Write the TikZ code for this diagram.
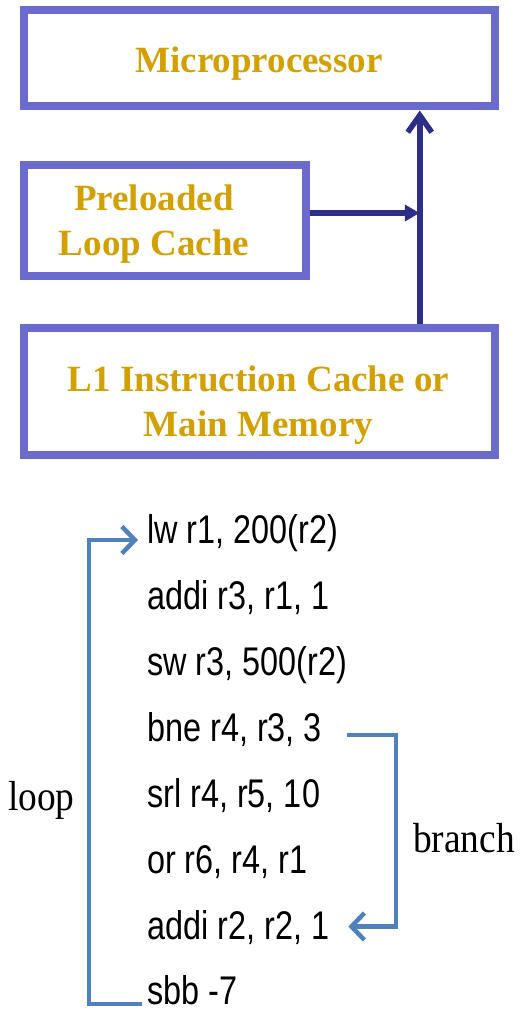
\documentclass[tikz,border=0pt]{standalone}
\usepackage{fontspec}
\usepackage{graphicx}
\setmainfont{Liberation Serif}
\setsansfont{Liberation Sans}
\usetikzlibrary{arrows.meta}

\definecolor{boxblue}{RGB}{107,107,205}
\definecolor{gold}{RGB}{210,160,0}
\definecolor{busnavy}{RGB}{46,46,136}
\definecolor{flowblue}{RGB}{79,129,189}

% condensed instruction text
\newcommand{\codetext}[1]{\scalebox{0.81}[1]{#1}}
\newcommand{\notetext}[1]{\scalebox{0.89}[1]{#1}}

\begin{document}
\begin{tikzpicture}[x=1pt,y=-1pt,
  unit/.style={draw=boxblue, line width=8pt, fill=white, rectangle, inner sep=0pt},
  unitlabel/.style={text=gold, font=\fontsize{37}{45}\selectfont\bfseries, align=center, inner sep=0pt},
  instr/.style={anchor=base west, inner sep=0pt, font=\fontsize{40}{48}\selectfont\sffamily},
  note/.style={anchor=base west, inner sep=0pt, font=\fontsize{42}{50}\selectfont},
  bus/.style={draw=busnavy, line width=5.5pt},
  flow/.style={draw=flowblue, line width=4.5pt, line join=miter}
]
\useasboundingbox (0,0) rectangle (529,1011);

% memory hierarchy blocks
\node[unit, minimum width=471.5pt, minimum height=96pt]  (micro) at (259.25,58.5) {};
\node[unit, minimum width=282pt,   minimum height=111pt] (plc)   at (165,220.5)   {};
\node[unit, minimum width=471pt,   minimum height=127pt] (l1)    at (259.5,391.5) {};

\node[unitlabel] (microtext) at (259,63.5)  {Microprocessor};
\node[unitlabel] (plctext)   at (154,224)   {Preloaded\\Loop Cache};
\node[unitlabel] (l1text)    at (258.5,405.5) {L1 Instruction Cache or\\Main Memory};

% instruction bus into the processor
\coordinate (busfoot) at ([xshift=160.25pt]l1.north);
\coordinate (bustop)  at (busfoot |- micro.south);
\draw[bus, -{Straight Barb[length=17pt,width=24pt]}] (busfoot) -- (bustop);
\coordinate (feed) at ([yshift=7.5pt]plc.east);
\draw[bus, -{Triangle[length=15pt,width=16pt]}] (feed) -- (feed -| busfoot);

% loop body
\node[instr] (lw)    at (147,543)   {\codetext{lw r1, 200(r2)}};
\node[instr] (addia) at (147,609)   {\codetext{addi r3, r1, 1}};
\node[instr] (sw)    at (147,675)   {\codetext{sw r3, 500(r2)}};
\node[instr] (bne)   at (147,741)   {\codetext{bne r4, r3, 3}};
\node[instr] (srl)   at (147,807.5) {\codetext{srl r4, r5, 10}};
\node[instr] (or)    at (147,873.5) {\codetext{or r6, r4, r1}};
\node[instr] (addib) at (147,939.5) {\codetext{addi r2, r2, 1}};
\node[instr] (sbb)   at (147,1004)  {\codetext{sbb -7}};

\node[note] (looplbl)   at (8,810)   {\notetext{loop}};
\node[note] (branchlbl) at (413,852) {\notetext{branch}};

% backward loop edge
\draw[flow, -{Straight Barb[length=13pt,width=27pt]}]
  ([xshift=-5pt,yshift=0pt]sbb.base west) -- ++(-53,0)
  |- ([xshift=-9pt,yshift=3pt]lw.base west);

% forward branch edge
\draw[flow, -{Straight Barb[length=13pt,width=27pt]}]
  ([xshift=25pt,yshift=6pt]bne.base east) -- ++(49,0)
  |- ([xshift=19pt,yshift=13pt]addib.base east);
\end{tikzpicture}
\end{document}
